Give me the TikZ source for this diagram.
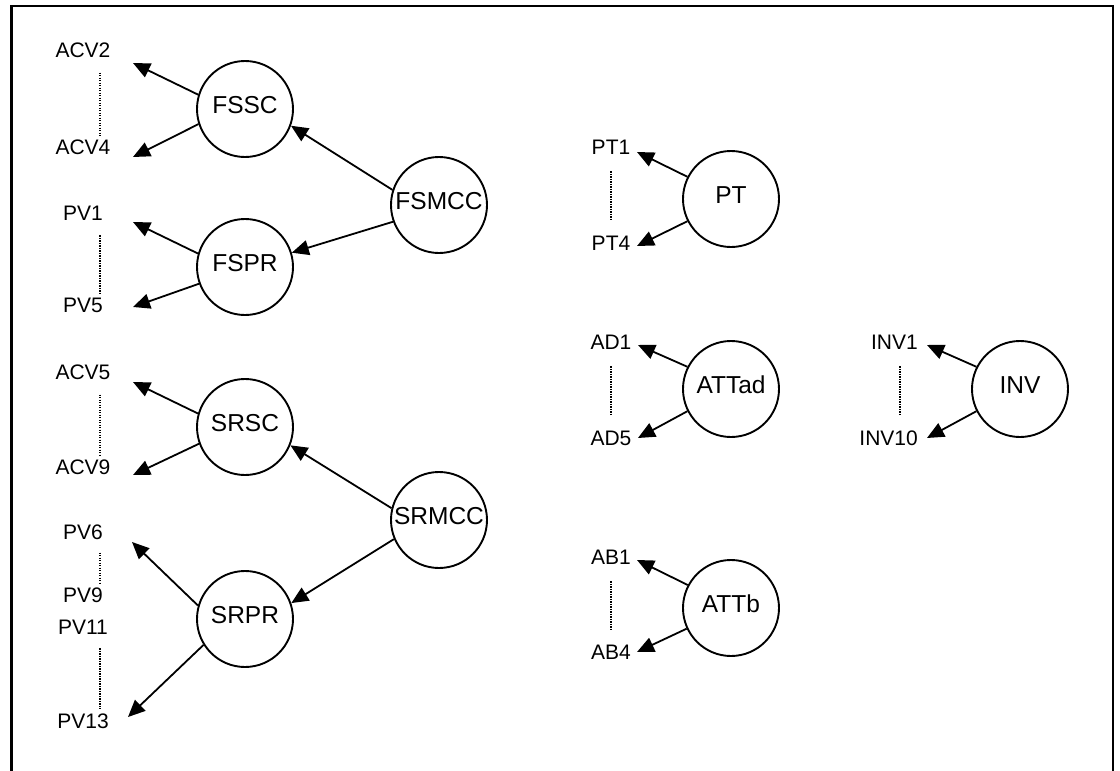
\documentclass[tikz,border=0pt]{standalone}
\usepackage{fontspec}
\setmainfont{Liberation Sans}
\usetikzlibrary{arrows.meta,shapes,positioning}

\begin{document}
\begin{tikzpicture}[x=1pt, y=-1pt,
    >={Triangle[length=17pt,width=15pt]},
    var/.style={draw, circle, line width=1.9pt, minimum size=96pt, inner sep=0pt, text depth=8pt, font=\fontsize{24.5}{28}\selectfont},
    ind/.style={inner sep=0pt, font=\fontsize{21}{24}\selectfont},
    link/.style={->, line width=1.8pt},
    dotline/.style={line width=1.1pt, dash pattern=on 1.1pt off 1.4pt}]
  \useasboundingbox (0,0) rectangle (1120,771);
  \draw [line width=2.4pt] (11.5,790) -- (11.5,6) -- (1113,6) -- (1113,790);

  % latent variables
  \node (fssc) at (245,109) [var] {FSSC};
  \node (fspr) at (245,267) [var] {FSPR};
  \node (fsmcc) at (439,205) [var] {FSMCC};
  \node (srsc) at (245,427) [var] {SRSC};
  \node (srpr) at (245,619) [var] {SRPR};
  \node (srmcc) at (439,520) [var] {SRMCC};
  \node (pt) at (731,199) [var] {PT};
  \node (attad) at (731,389) [var] {ATTad};
  \node (inv) at (1020,389) [var] {INV};
  \node (attb) at (731,608) [var] {ATTb};

  % indicators
  \node (acv2) at (83,50) [ind] {ACV2};
  \node (acv4) at (83,147) [ind] {ACV4};
  \node (pv1) at (83,213) [ind] {PV1};
  \node (pv5) at (83,305) [ind] {PV5};
  \node (acv5) at (83,372) [ind] {ACV5};
  \node (acv9) at (83,467) [ind] {ACV9};
  \node (pv6) at (83,532) [ind] {PV6};
  \node (pv9) at (83,595) [ind] {PV9};
  \node (pv11) at (83,627) [ind] {PV11};
  \node (pv13) at (83,721) [ind] {PV13};
  \node (pt1) at (611,147) [ind] {PT1};
  \node (pt4) at (611,243) [ind] {PT4};
  \node (ad1) at (611,342) [ind] {AD1};
  \node (ad5) at (611,438) [ind] {AD5};
  \node (ab1) at (611,557) [ind] {AB1};
  \node (ab4) at (611,652) [ind] {AB4};
  \node (inv1) at (918,342) [ind, anchor=east] {INV1};
  \node (inv10) at (918,438) [ind, anchor=east] {INV10};

  % arrow ends next to the indicators
  \coordinate (acv2t) at (133,63);
  \coordinate (acv4t) at (133,157);
  \coordinate (pv1t) at (133,222);
  \coordinate (pv5t) at (133,307);
  \coordinate (acv5t) at (133,382);
  \coordinate (acv9t) at (133,475);
  \coordinate (pv6t) at (132,542);
  \coordinate (pv13t) at (128,717);
  \coordinate (pt1t) at (637,152);
  \coordinate (pt4t) at (637,246);
  \coordinate (ad1t) at (638,345);
  \coordinate (ad5t) at (638,438);
  \coordinate (inv1t) at (927,345);
  \coordinate (inv10t) at (927,438);
  \coordinate (ab1t) at (637,560);
  \coordinate (ab4t) at (637,652);

  \draw [link] (fsmcc.162) -- (fssc.-20);
  \draw [link] (fsmcc.200) -- (fspr.17);
  \draw [link] (srmcc.166) -- (srsc.-22);
  \draw [link] (srmcc.203) -- (srpr.19);

  \draw [link] (fssc.163) -- (acv2t);
  \draw [link] (fssc.198) -- (acv4t);
  \draw [link] (fspr.164) -- (pv1t);
  \draw [link] (fspr.200) -- (pv5t);
  \draw [link] (srsc.164) -- (acv5t);
  \draw [link] (srsc.200) -- (acv9t);
  \draw [link] (srpr.164) -- (pv6t);
  \draw [link] (srpr.212) -- (pv13t);
  \draw [link] (pt.153) -- (pt1t);
  \draw [link] (pt.207) -- (pt4t);
  \draw [link] (attad.153) -- (ad1t);
  \draw [link] (attad.207) -- (ad5t);
  \draw [link] (inv.153) -- (inv1t);
  \draw [link] (inv.207) -- (inv10t);
  \draw [link] (attb.152) -- (ab1t);
  \draw [link] (attb.205) -- (ab4t);

  % dotted ranges
  \draw [dotline] ([shift={(17,15)}]acv2.south) -- ([shift={(17,-4)}]acv4.north);
  \draw [dotline] ([shift={(17,15)}]pv1.south) -- ([shift={(17,-4)}]pv5.north);
  \draw [dotline] ([shift={(17,15)}]acv5.south) -- ([shift={(17,-4)}]acv9.north);
  \draw [dotline] ([shift={(17,13)}]pv6.south) -- ([shift={(17,-4)}]pv9.north);
  \draw [dotline] ([shift={(17,14)}]pv11.south) -- ([shift={(17,-4)}]pv13.north);
  \draw [dotline] ([shift={(0,17)}]pt1.south) -- ([shift={(0,-15)}]pt4.north);
  \draw [dotline] ([shift={(0,17)}]ad1.south) -- ([shift={(0,-15)}]ad5.north);
  \draw [dotline] ([shift={(0,17)}]ab1.south) -- ([shift={(0,-15)}]ab4.north);
  \draw [dotline] ([shift={(-18,17)}]inv1.south east) -- ([shift={(-18,-15)}]inv10.north east);
\end{tikzpicture}
\end{document}
